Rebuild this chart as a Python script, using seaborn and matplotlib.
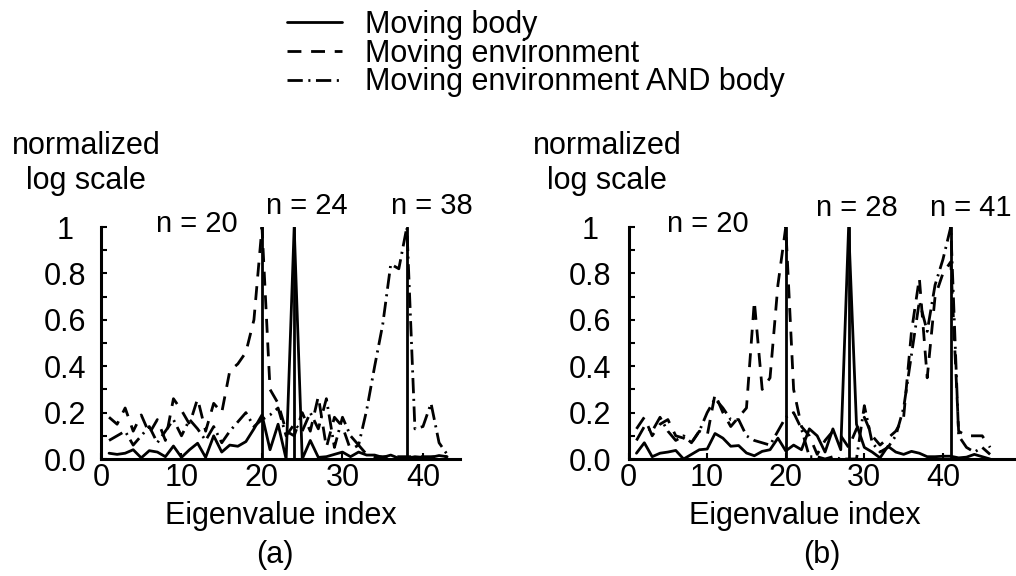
import numpy as np
import pandas as pd
import seaborn as sns
import matplotlib
matplotlib.use("Agg")
import matplotlib.pyplot as plt
from matplotlib.ticker import MultipleLocator

# eigenvalue index for each panel
idx_a = list(range(1, 44))
idx_b = list(range(1, 47))

# panel (a)
body_a = [0.025, 0.02, 0.025, 0.04, 0.005, 0.036, 0.03, 0.01, 0.056, 0.007,
          0.04, 0.068, 0.007, 0.10, 0.03, 0.06, 0.055, 0.075, 0.13, 0.19,
          0.04, 0.15, 0.0, 1.0, 0.0, 0.08, 0.007, 0.01, 0.02, 0.03,
          0.01, 0.03, 0.017, 0.017, 0.007, 0.017, 0.003, 0.003, 0.01, 0.007,
          0.007, 0.015, 0.01]
env_a = [0.18, 0.15, 0.22, 0.12, 0.19, 0.11, 0.17, 0.08, 0.26, 0.21,
         0.15, 0.26, 0.12, 0.24, 0.20, 0.38, 0.41, 0.46, 0.60, 1.0,
         0.30, 0.24, 0.12, 0.10, 0.20, 0.12, 0.27, 0.05, 0.18, 0.14,
         0.04, 0.06, 0.02, 0.01, 0.01, 0.01, 0.01, 0.01, 0.01, 0.01,
         0.01, 0.01, 0.01]
mix_a = [0.08, 0.10, 0.12, 0.06, 0.10, 0.14, 0.07, 0.12, 0.17, 0.10,
         0.17, 0.13, 0.08, 0.14, 0.07, 0.12, 0.16, 0.20, 0.14, 0.17,
         0.19, 0.22, 0.10, 0.15, 0.12, 0.20, 0.13, 0.26, 0.05, 0.18,
         0.10, 0.06, 0.21, 0.40, 0.58, 0.84, 0.82, 1.0, 0.13, 0.14,
         0.24, 0.07, 0.02]
n_a = [20, 24, 38]

# panel (b)
body_b = [0.025, 0.07, 0.01, 0.025, 0.03, 0.037, 0.0, 0.02, 0.04, 0.043,
          0.11, 0.09, 0.055, 0.058, 0.026, 0.014, 0.033, 0.04, 0.09, 0.035,
          0.06, 0.04, 0.13, 0.10, 0.03, 0.13, 0.04, 1.0, 0.15, 0.05,
          0.03, 0.005, 0.055, 0.03, 0.02, 0.033, 0.025, 0.01, 0.01, 0.012,
          0.012, 0.005, 0.008, 0.02, 0.01, 0.0]
env_b = [0.13, 0.18, 0.10, 0.15, 0.17, 0.10, 0.09, 0.07, 0.12, 0.10,
         0.28, 0.20, 0.14, 0.18, 0.22, 0.68, 0.30, 0.35, 0.75, 1.0,
         0.30, 0.14, 0.10, 0.02, 0.08, 0.12, 0.10, 0.05, 0.13, 0.18,
         0.10, 0.06, 0.09, 0.12, 0.18, 0.55, 0.78, 0.35, 0.70, 0.80,
         0.85, 0.12, 0.10, 0.10, 0.10, 0.05]
mix_b = [0.08, 0.14, 0.12, 0.18, 0.12, 0.08, 0.10, 0.07, 0.12, 0.20,
         0.26, 0.22, 0.17, 0.17, 0.10, 0.08, 0.07, 0.06, 0.12, 0.18,
         0.20, 0.13, 0.01, 0.01, 0.0, 0.01, 0.0, 0.0, 0.0, 0.23,
         0.07, 0.03, 0.05, 0.10, 0.22, 0.45, 0.68, 0.55, 0.75, 0.86,
         1.0, 0.10, 0.05, 0.03, 0.05, 0.02]
n_b = [20, 28, 41]

labels = ["Moving body", "Moving environment", "Moving environment AND body"]
styles = ["-", (0, (10, 7)), (0, (11, 4, 1.5, 4))]

sns.set_style("ticks")
plt.rcParams["font.family"] = ["Liberation Sans", "DejaVu Sans"]
plt.rcParams["lines.scale_dashes"] = False
for k in ["text.color", "axes.labelcolor", "xtick.color", "ytick.color",
          "axes.edgecolor"]:
    plt.rcParams[k] = "black"
FS = 22

fig = plt.figure(figsize=(10.16, 5.76), dpi=100)
ax_a = fig.add_axes([101 / 1016, 0.2031, 359 / 1016, 0.4028])
ax_b = fig.add_axes([628.6 / 1016, 0.2031, 387.4 / 1016, 0.4028])

panels = [
    (ax_a, idx_a, [body_a, env_a, mix_a], n_a, 44.6, 26,
     [(11.9, 0.978), (25.6, 1.056), (41.1, 1.056)], 0.5),
    (ax_b, idx_b, [body_b, env_b, mix_b], n_b, 49.3, 28,
     [(10.1, 0.978), (29.1, 1.047), (43.5, 1.047)], 0.455),
]

for ax, idx, series, ns, xmax, ypad, npos, xl in panels:
    for vals, lab, ls in zip(series, labels, styles):
        sns.lineplot(x=idx, y=vals, ax=ax, color="black", lw=2.0,
                     linestyle=ls, label=lab, legend=False)
    for n in ns:
        ax.axvline(n, ymin=0, ymax=1, color="black", lw=2.0)
    for n, (tx, ty) in zip(ns, npos):
        ax.text(tx, ty, f"n = {n}", ha="center", va="baseline", fontsize=FS - 1)
    ax.set_xlim(0, xmax)
    ax.set_ylim(0, 1)
    ax.set_xticks([0, 10, 20, 30, 40])
    ax.set_yticks([0, 0.2, 0.4, 0.6, 0.8, 1.0])
    ax.set_yticklabels(["0.0", "0.2", "0.4", "0.6", "0.8", "1"])
    ax.yaxis.set_minor_locator(MultipleLocator(0.1))
    ax.tick_params(axis="both", direction="in", length=4, width=1.5,
                   labelsize=FS, color="black")
    ax.tick_params(axis="y", which="minor", direction="in", length=4, width=1.5)
    ax.tick_params(axis="x", pad=3)
    ax.tick_params(axis="y", pad=ypad)
    for t in ax.get_yticklabels():
        t.set_ha("center")
    sns.despine(ax=ax)
    for sp in ["left", "bottom"]:
        ax.spines[sp].set_linewidth(2.2)
        ax.spines[sp].set_color("black")
    ax.set_xlabel("Eigenvalue index", fontsize=FS)
    ax.xaxis.set_label_coords(xl, -0.18)
    ax.set_ylabel("")
    ax.grid(False)

fig.text(86 / 1016, 1 - 131 / 576, "normalized\nlog scale", ha="center",
         va="top", fontsize=FS, linespacing=1.2)
fig.text(607 / 1016, 1 - 131 / 576, "normalized\nlog scale", ha="center",
         va="top", fontsize=FS, linespacing=1.2)
fig.text(275 / 1016, 1 - 555 / 576, "(a)", ha="center", va="center", fontsize=FS)
fig.text(822 / 1016, 1 - 555 / 576, "(b)", ha="center", va="center", fontsize=FS)

handles, labs = ax_a.get_legend_handles_labels()
fig.legend(handles[:3], labs[:3], loc="upper left",
           bbox_to_anchor=(266 / 1016, 1.02), frameon=False, fontsize=FS,
           handlelength=1.8, handletextpad=0.75, labelspacing=-0.04,
           borderpad=0.2)

fig.savefig("out.png", dpi=100, facecolor="white")
